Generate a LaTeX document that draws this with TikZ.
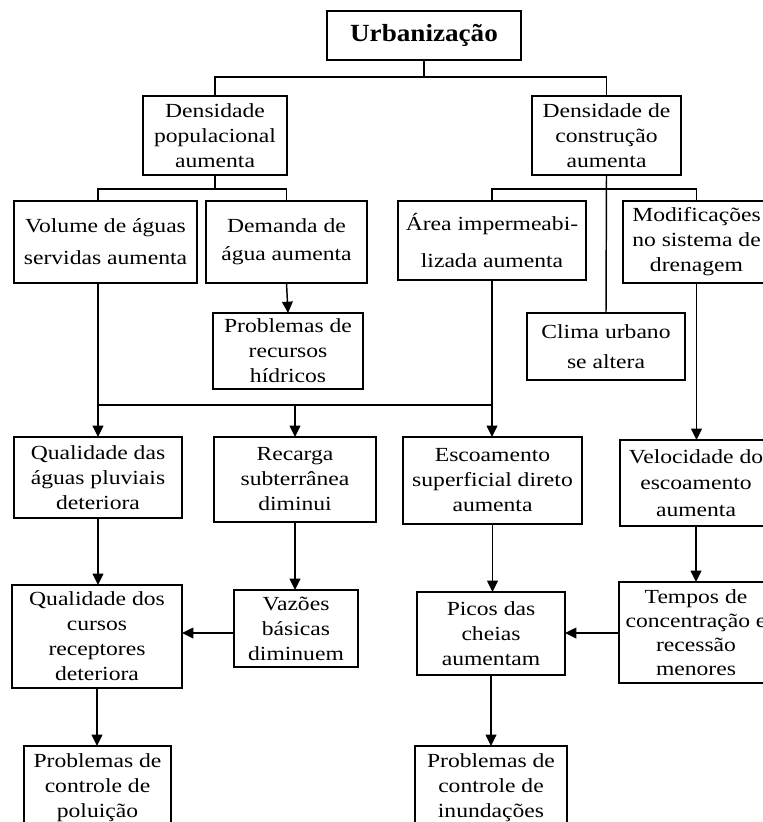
\documentclass[tikz,border=0pt]{standalone}
\usepackage{fontspec}
\setmainfont[FakeStretch=1.18]{Liberation Serif}
\newfontfamily\titlefont[FakeStretch=1.1]{Liberation Serif}
\usetikzlibrary{arrows.meta}

\tikzset{
  box/.style={draw, line width=1.5pt, inner sep=0pt, outer sep=0pt, align=center,
    font=\fontsize{15pt}{18.75pt}\selectfont},
  sz/.style 2 args={minimum width=#1*0.75pt, minimum height=#2*0.75pt},
  lead/.style={font=\fontsize{15pt}{#1}\selectfont},
  link/.style={line width=1.1pt},
  arr/.style={line width=1.1pt, -{Triangle[length=8.5pt,width=8pt]}}
}

\begin{document}
\begin{tikzpicture}[x=0.75pt,y=0.75pt,yscale=-1,xscale=1]
\clip (0,0) rectangle (763,822);
\fill[white] (0,0) rectangle (763,822);

% Text Node
\node[box, sz={194}{49}, font=\titlefont\bfseries\fontsize{18.5pt}{20pt}\selectfont] (urb) at (424,35.5) {Urbanização};
% Text Node
\node[box, sz={144}{79}] (dpop) at (215,135.5) {Densidade\\populacional\\aumenta};
% Text Node
\node[box, sz={149}{79}] (dcon) at (606.5,135.5) {Densidade de\\construção\\aumenta};
% Text Node
\node[box, sz={183}{82}, lead=24pt] (vol) at (105.5,242) {Volume de águas\\servidas aumenta};
% Text Node
\node[box, sz={161}{82}, lead=21pt] (dem) at (286.5,242) {Demanda de\\água aumenta};
% Text Node
\node[box, sz={188}{79}, lead=27.75pt] (area) at (492,240.5) {Área impermeabi-\\lizada aumenta};
% Text Node
\node[box, sz={147}{82}] (modif) at (696.5,242) {Modificações\\no sistema de\\drenagem};
% Text Node
\node[box, sz={150}{76}] (prob) at (288,351) {Problemas de\\recursos\\hídricos};
% Text Node
\node[box, sz={158}{67}, lead=22.5pt] (clima) at (606,346.5) {Clima urbano\\se altera};
% Text Node
\node[box, sz={168}{81}] (qagua) at (98,477.5) {Qualidade das\\águas pluviais\\deteriora};
% Text Node
\node[box, sz={162}{85}] (rec) at (295,479.5) {Recarga\\subterrânea\\diminui};
% Text Node
\node[box, sz={179}{87}] (esc) at (492.5,480.5) {Escoamento\\superficial direto\\aumenta};
% Text Node
\node[box, sz={152}{86}, lead=19.9pt] (vel) at (696,483) {Velocidade do\\escoamento\\aumenta};
% Text Node
\node[box, sz={170}{103}] (qcur) at (97,636.5) {Qualidade dos\\cursos\\receptores\\deteriora};
% Text Node
\node[box, sz={124}{77}] (vaz) at (296,628.5) {Vazões\\básicas\\diminuem};
% Text Node
\node[box, sz={148}{83}] (picos) at (491,633.5) {Picos das\\cheias\\aumentam};
% Text Node
\node[box, sz={154}{101}, lead=18pt] (tempos) at (696,632.5) {Tempos de\\concentração e\\recessão\\menores};
% Text Node
\node[box, sz={147}{84}] (ppol) at (97.5,788) {Problemas de\\controle de\\poluição};
% Text Node
\node[box, sz={152}{84}] (pinu) at (491,788) {Problemas de\\controle de\\inundações};

\coordinate (join) at (295,405);

%Straight Lines
\draw[link] (urb.south) -- ++(0,17) -| (dpop.north);
\draw[link] (urb.south) -- ++(0,17) -| (dcon.north);
\draw[link] (dpop.south) -- ++(0,14) -| (vol.north -| qagua.north);
\draw[link] (dpop.south) -- ++(0,14) -| (dem.north);
\draw[link] (dcon.south) -- ++(0,14) -| (area.north);
\draw[link] (dcon.south) -- ++(0,14) -| (modif.north);
\draw[link] (dcon.south) -- (clima.north);
\draw[link] (qagua.north |- join) -- (area.south |- join);
%Arrows
\draw[arr] (dem.south) -- (prob.north);
\draw[arr] (vol.south -| qagua.north) -- (qagua.north);
\draw[arr] (join) -- (rec.north);
\draw[arr] (area.south) -- (area.south |- esc.north);
\draw[arr] (modif.south) -- (modif.south |- vel.north);
\draw[arr] (qagua.south) -- (qagua.south |- qcur.north);
\draw[arr] (rec.south) -- (rec.south |- vaz.north);
\draw[arr] (esc.south) -- (esc.south |- picos.north);
\draw[arr] (vel.south) -- (vel.south |- tempos.north);
\draw[arr] (vaz.west |- 0,633) -- (qcur.east |- 0,633);
\draw[arr] (tempos.west |- 0,633) -- (picos.east |- 0,633);
\draw[arr] (qcur.south) -- (qcur.south |- ppol.north);
\draw[arr] (picos.south) -- (picos.south |- pinu.north);

\end{tikzpicture}
\end{document}
